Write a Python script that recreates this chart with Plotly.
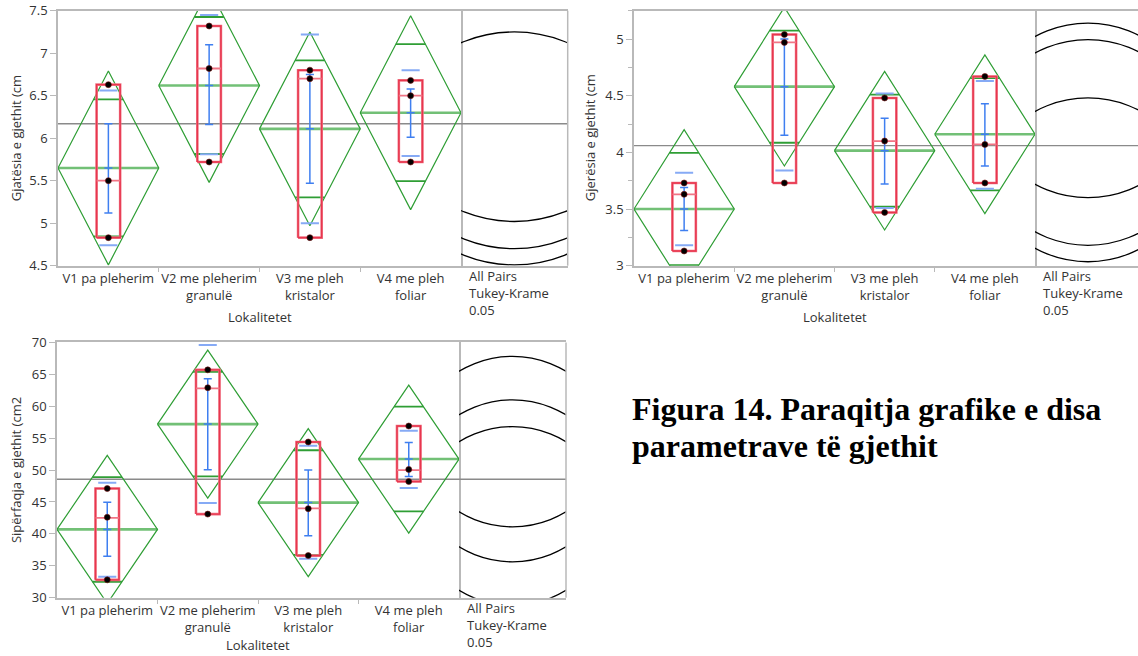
import math
import plotly.graph_objects as go

W, H = 1138, 656

# ---------------- data ----------------
categories = ["V1 pa pleherim", "V2 me pleherim<br>granulë", "V3 me pleh<br>kristalor", "V4 me pleh<br>foliar"]
x_title = "Lokalitetet"
test_label = "All Pairs<br>Tukey-Krame<br>0.05"
caption_1 = "Figura 14. Paraqitja grafike e disa"
caption_2 = "parametrave të gjethit"

# Panel A: leaf length
a_title = "Gjatësia e gjethit (cm"
a_points = [[6.63, 5.50, 4.83], [7.32, 6.82, 5.72], [6.80, 6.70, 4.83], [6.68, 6.50, 5.72]]
a_mean = [5.65, 6.62, 6.11, 6.30]
a_ci = [1.14, 1.14, 1.14, 1.14]
a_box_lo = [4.83, 5.72, 4.83, 5.72]
a_box_med = [5.50, 6.82, 6.70, 6.50]
a_box_hi = [6.63, 7.32, 6.80, 6.68]
a_se_lo = [5.12, 6.16, 5.47, 6.01]
a_se_hi = [6.17, 7.10, 6.75, 6.58]
a_sd_lo = [4.74, 5.81, 5.00, 5.79]
a_sd_hi = [6.56, 7.45, 7.22, 6.80]
a_grand = 6.17
a_radius = 1.60
a_range = [4.5, 7.5]

# Panel B: leaf width
b_title = "Gjerësia e gjethit (cm"
b_points = [[3.73, 3.63, 3.13], [5.04, 4.97, 3.73], [4.48, 4.10, 3.47], [4.67, 4.07, 3.73]]
b_mean = [3.50, 4.58, 4.015, 4.16]
b_ci = [0.70, 0.70, 0.70, 0.70]
b_box_lo = [3.13, 3.73, 3.47, 3.73]
b_box_med = [3.63, 4.97, 4.10, 4.07]
b_box_hi = [3.73, 5.04, 4.48, 4.67]
b_se_lo = [3.31, 4.15, 3.72, 3.88]
b_se_hi = [3.69, 5.00, 4.30, 4.43]
b_sd_lo = [3.18, 3.84, 3.51, 3.68]
b_sd_hi = [3.82, 5.32, 4.52, 4.63]
b_grand = 4.06
b_radius = 0.98
b_range = [3.0, 5.25]

# Panel C: leaf area
c_title = "Sipërfaqja e gjethit (cm2"
c_points = [[47.1, 42.6, 32.8], [65.7, 62.9, 43.1], [54.4, 43.95, 36.6], [56.9, 50.1, 48.2]]
c_mean = [40.7, 57.2, 44.9, 51.72]
c_ci = [11.6, 11.6, 11.6, 11.6]
c_box_lo = [32.8, 43.1, 36.6, 48.2]
c_box_med = [42.5, 62.8, 44.0, 50.0]
c_box_hi = [47.1, 65.7, 54.4, 56.9]
c_se_lo = [36.5, 50.05, 39.7, 49.0]
c_se_hi = [44.95, 64.3, 50.0, 54.3]
c_sd_lo = [33.3, 44.85, 36.1, 47.2]
c_sd_hi = [48.0, 69.6, 53.8, 56.15]
c_grand = 48.56
c_radius = 16.1
c_range = [30, 70]

# ---------------- styling / geometry ----------------
FONT = "Open Sans, Noto Sans, sans-serif"
FRAME = "#b9b9b9"
GREEN = "#2f9e35"
GREEN_L = "#72c076"
RED = "#e8364e"
RED_L = "#f07585"
BLUE = "#3f7ff0"
BLUE_L = "#86aaf5"
GRAY = "#8a8a8a"
TXT = "#333333"

panels = [
    dict(data=dict(points=a_points, mean=a_mean, ci=a_ci, blo=a_box_lo, bmed=a_box_med, bhi=a_box_hi,
                   selo=a_se_lo, sehi=a_se_hi, sdlo=a_sd_lo, sdhi=a_sd_hi, grand=a_grand, radius=a_radius),
         title=a_title, yrange=a_range, dtick=0.5, minor=None,
         main=(58, 461), circ=(461, 567.7), ccenter=514.3, top=10.7, bot=265.7, right_border=True,
         ytitle_x=16, xtitle_y=317, xa="x", xc="x2", ya="y"),
    dict(data=dict(points=b_points, mean=b_mean, ci=b_ci, blo=b_box_lo, bmed=b_box_med, bhi=b_box_hi,
                   selo=b_se_lo, sehi=b_se_hi, sdlo=b_sd_lo, sdhi=b_sd_hi, grand=b_grand, radius=b_radius),
         title=b_title, yrange=b_range, dtick=0.5, minor=0.25,
         main=(634, 1035), circ=(1035, 1138), ccenter=1088, top=10.7, bot=265.7, right_border=False,
         ytitle_x=590, xtitle_y=317, xa="x3", xc="x4", ya="y2"),
    dict(data=dict(points=c_points, mean=c_mean, ci=c_ci, blo=c_box_lo, bmed=c_box_med, bhi=c_box_hi,
                   selo=c_se_lo, sehi=c_se_hi, sdlo=c_sd_lo, sdhi=c_sd_hi, grand=c_grand, radius=c_radius),
         title=c_title, yrange=c_range, dtick=5, minor=None,
         main=(57, 459), circ=(459, 566), ccenter=512.5, top=342.4, bot=597.7, right_border=True,
         ytitle_x=16, xtitle_y=645, xa="x5", xc="x6", ya="y3"),
]

fig = go.Figure()
shapes = []
annotations = []
layout_axes = {}

BOX_HW = 0.117
CAP_HW = 0.04
SD_HW = 0.09
OVL_HW = 0.5 * (1 - 1 / math.sqrt(2))


def ax_name(ref):
    return ref.replace("x", "xaxis").replace("y", "yaxis") if len(ref) > 1 else ("xaxis" if ref == "x" else "yaxis")


for p in panels:
    d = p["data"]
    xa, xc, ya = p["xa"], p["xc"], p["ya"]
    n = len(d["mean"])
    y0, y1 = p["yrange"]
    pxu = (p["bot"] - p["top"]) / (y1 - y0)
    crange = [-(p["ccenter"] - p["circ"][0]) / pxu, (p["circ"][1] - p["ccenter"]) / pxu]

    def tr(x, y, color, width, mode="lines", xaxis=xa, **kw):
        fig.add_trace(go.Scatter(x=x, y=y, mode=mode, xaxis=xaxis, yaxis=ya, showlegend=False,
                                 hoverinfo="skip", line=dict(color=color, width=width), **kw))

    # grand mean
    tr([0.5, n + 0.5], [d["grand"]] * 2, GRAY, 1.3)
    tr(crange, [d["grand"]] * 2, GRAY, 1.3, xaxis=xc)

    # diamonds
    dx, dy = [], []
    for i, (m, c) in enumerate(zip(d["mean"], d["ci"])):
        k = i + 1
        dx += [k - 0.5, k, k + 0.5, k, k - 0.5, None]
        dy += [m, m + c, m, m - c, m, None]
    # mean line
    mx, my = [], []
    for i, m in enumerate(d["mean"]):
        k = i + 1
        mx += [k - 0.5, k + 0.5, None]
        my += [m, m, None]
    tr(mx, my, GREEN_L, 2.6)
    tr(dx, dy, GREEN, 1.2)
    # overlap marks
    ox, oy = [], []
    for i, (m, c) in enumerate(zip(d["mean"], d["ci"])):
        k = i + 1
        for s in (1, -1):
            yy = m + s * c / math.sqrt(2)
            ox += [k - OVL_HW, k + OVL_HW, None]
            oy += [yy, yy, None]
    tr(ox, oy, GREEN, 1.8)

    # boxes
    bx, by, mdx, mdy = [], [], [], []
    for i in range(n):
        k = i + 1
        lo, hi, md = d["blo"][i], d["bhi"][i], d["bmed"][i]
        bx += [k - BOX_HW, k + BOX_HW, k + BOX_HW, k - BOX_HW, k - BOX_HW, None]
        by += [lo, lo, hi, hi, lo, None]
        mdx += [k - BOX_HW, k + BOX_HW, None]
        mdy += [md, md, None]
    tr(bx, by, RED_L, 2.6)
    tr(bx, by, RED, 1.4)
    tr(mdx, mdy, RED_L, 1.8)

    # SD lines
    sx, sy = [], []
    for i in range(n):
        k = i + 1
        for v in (d["sdlo"][i], d["sdhi"][i]):
            sx += [k - SD_HW, k + SD_HW, None]
            sy += [v, v, None]
    tr(sx, sy, BLUE_L, 2.0)

    # SE bars
    ex, ey = [], []
    for i in range(n):
        k = i + 1
        lo, hi, m = d["selo"][i], d["sehi"][i], d["mean"][i]
        ex += [k, k, None, k - CAP_HW, k + CAP_HW, None, k - CAP_HW, k + CAP_HW, None,
               k - CAP_HW, k + CAP_HW, None]
        ey += [lo, hi, None, lo, lo, None, hi, hi, None, m, m, None]
    tr(ex, ey, BLUE, 1.5)

    # points
    px_, py_ = [], []
    for i, pts in enumerate(d["points"]):
        px_ += [i + 1] * len(pts)
        py_ += pts
    fig.add_trace(go.Scatter(x=px_, y=py_, mode="markers", xaxis=xa, yaxis=ya, showlegend=False,
                             hoverinfo="skip",
                             marker=dict(color="black", size=6, line=dict(color="#7a1010", width=0.6))))

    # comparison circles
    for m in d["mean"]:
        r = d["radius"]
        shapes.append(dict(type="circle", xref=xc, yref=ya, x0=-r, x1=r, y0=m - r, y1=m + r,
                           line=dict(color="black", width=1.3), layer="above"))

    # axes
    ydom = [1 - p["bot"] / H, 1 - p["top"] / H]
    layout_axes[ax_name(xa)] = dict(
        domain=[p["main"][0] / W, p["main"][1] / W], range=[0.5, n + 0.5], anchor=ya,
        tickmode="array", tickvals=list(range(1, n + 1)), ticktext=categories, ticks="",
        tickfont=dict(family=FONT, size=13, color=TXT), automargin=False,
        showline=True, mirror=True, linecolor=FRAME, linewidth=1.5,
        showgrid=False, zeroline=False, fixedrange=True,
        minor=dict(tickmode="array", tickvals=[k + 0.5 for k in range(1, n)], ticks="outside",
                   ticklen=5, tickcolor=FRAME, tickwidth=1.2, showgrid=False),
    )
    layout_axes[ax_name(xc)] = dict(
        domain=[p["circ"][0] / W, p["circ"][1] / W], range=crange, anchor=ya, automargin=False,
        showticklabels=False, ticks="", showline=True, mirror=True, linecolor=FRAME, linewidth=1.5,
        showgrid=False, zeroline=False, fixedrange=True,
    )
    yax = dict(
        domain=ydom, range=p["yrange"], anchor=xa, dtick=p["dtick"], tick0=0, ticks="outside",
        ticklen=6, tickcolor=FRAME, tickwidth=1.2, tickfont=dict(family=FONT, size=13, color=TXT),
        showline=True, mirror=True, linecolor=FRAME, linewidth=1.5, automargin=False,
        showgrid=False, zeroline=False, fixedrange=True,
    )
    if p["minor"]:
        yax["minor"] = dict(dtick=p["minor"], ticks="outside", ticklen=4, tickcolor=FRAME,
                            tickwidth=1.2, showgrid=False)
    layout_axes[ax_name(ya)] = yax

    if p["right_border"]:
        shapes.append(dict(type="line", xref="paper", yref="paper",
                           x0=p["circ"][1] / W, x1=p["circ"][1] / W, y0=ydom[0], y1=ydom[1],
                           line=dict(color=FRAME, width=1.5)))

    # text
    annotations.append(dict(text=p["title"], textangle=-90, xref="paper", yref="paper",
                            x=p["ytitle_x"] / W, y=1 - (p["top"] + p["bot"]) / 2 / H,
                            xanchor="center", yanchor="middle", showarrow=False,
                            font=dict(family=FONT, size=13, color=TXT)))
    annotations.append(dict(text=x_title, xref="paper", yref="paper",
                            x=(p["main"][0] + p["main"][1]) / 2 / W, y=1 - p["xtitle_y"] / H,
                            xanchor="center", yanchor="middle", showarrow=False,
                            font=dict(family=FONT, size=13, color=TXT)))
    annotations.append(dict(text=test_label, xref="paper", yref="paper", align="left",
                            x=(p["circ"][0] + 6) / W, y=1 - (p["bot"] - 1) / H,
                            xanchor="left", yanchor="top", showarrow=False,
                            font=dict(family=FONT, size=13, color=TXT)))

annotations.append(dict(text="<b>" + caption_1 + "</b>", xref="paper", yref="paper",
                        x=630 / W, y=1 - 409 / H, xanchor="left", yanchor="middle", showarrow=False,
                        font=dict(family="Liberation Serif, Times New Roman, serif", size=32, color="black")))
annotations.append(dict(text="<b>" + caption_2 + "</b>", xref="paper", yref="paper",
                        x=630 / W, y=1 - 445.5 / H, xanchor="left", yanchor="middle", showarrow=False,
                        font=dict(family="Liberation Serif, Times New Roman, serif", size=32, color="black")))

fig.update_layout(
    width=W, height=H, margin=dict(l=0, r=0, t=0, b=0, pad=0, autoexpand=False),
    paper_bgcolor="white", plot_bgcolor="white",
    shapes=shapes, annotations=annotations, showlegend=False,
    **layout_axes,
)

fig.write_html("out.html", config=dict(displayModeBar=False))
